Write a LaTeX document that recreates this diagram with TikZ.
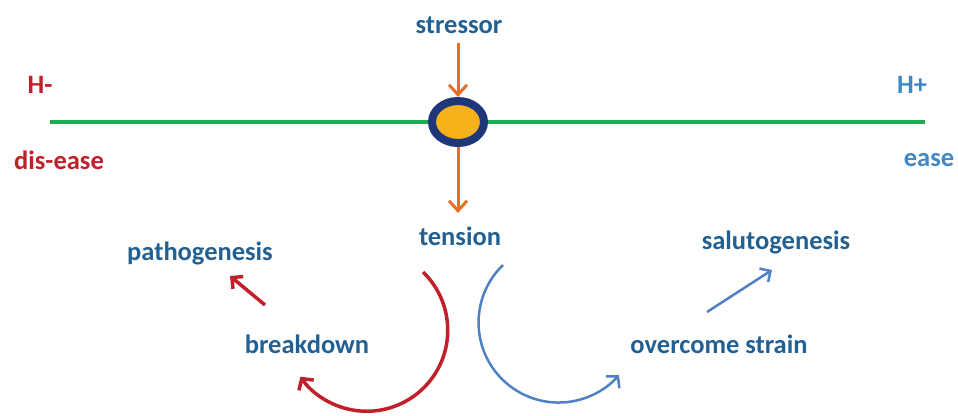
\documentclass[tikz,border=0pt]{standalone}
\usepackage{fontspec}
\setmainfont{Carlito}
\usetikzlibrary{arrows.meta,shapes.geometric}
\definecolor{txtblue}{RGB}{34,96,146}
\definecolor{hred}{RGB}{192,32,42}
\definecolor{hblue}{RGB}{62,136,200}
\definecolor{lgreen}{RGB}{34,170,80}
\definecolor{orng}{RGB}{232,110,40}
\definecolor{navy}{RGB}{30,55,120}
\definecolor{dotfill}{RGB}{246,178,24}
\definecolor{arcblue}{RGB}{80,128,196}
\begin{document}
\begin{tikzpicture}[x=1pt,y=-1pt,
  lbl/.style={font=\fontsize{26.5}{28}\selectfont\bfseries, text=txtblue, inner sep=0pt},
  redlbl/.style={lbl, text=hred},
  bluelbl/.style={lbl, text=hblue},
  oarrow/.style={draw=orng, line width=3pt, -{Straight Barb[length=10pt,width=18pt,line width=3pt]}},
  rarrow/.style={draw=hred, line width=3.5pt, -{Straight Barb[length=8pt,width=16pt,line width=3.5pt]}},
  barrow/.style={draw=arcblue, line width=2.5pt, -{Straight Barb[length=8pt,width=16pt,line width=2.5pt]}}]
\useasboundingbox (0,0) rectangle (958,415);
\node[lbl] (stressor) at (459,25) {stressor};
\node[lbl] (tension) at (460,236) {tension};
\node[redlbl] (hminus) at (40,85) {H-};
\node[redlbl] (disease) at (59,160) {dis-ease};
\node[bluelbl] (hplus) at (912,85) {H+};
\node[bluelbl] (ease) at (929,160) {ease};
\node[lbl] (patho) at (200,253) {pathogenesis};
\node[lbl] (breakdown) at (307,344) {breakdown};
\node[lbl] (saluto) at (776,242) {salutogenesis};
\node[lbl] (overcome) at (719,344) {overcome strain};
\coordinate (lineL) at (50,122);
\coordinate (lineR) at (925,122);
\draw[lgreen, line width=3.5pt] (lineL) -- (lineR);
\node[ellipse, draw=navy, line width=8pt, fill=dotfill, minimum width=52pt, minimum height=42pt, inner sep=0pt] (dot) at (458,122) {};
\coordinate (sA) at (458,43);
\coordinate (tA) at (458,213);
\draw[oarrow] (sA) -- (dot.north);
\draw[oarrow] (dot.south) -- (tA);
\coordinate (pA) at (265,305);
\coordinate (pB) at (230,276);
\draw[rarrow] (pA) -- (pB);
\coordinate (sB1) at (707,312);
\coordinate (sB2) at (772,270);
\draw[barrow] (sB1) -- (sB2);
\coordinate (redStart) at (423,272);
\coordinate (blueStart) at (503,265);
\draw[hred, line width=3.5pt, -{Straight Barb[length=8pt,width=18pt,line width=3.5pt]}] (redStart) arc[start angle=-46, end angle=145, radius=81];
\draw[arcblue, line width=2.5pt, -{Straight Barb[length=8pt,width=18pt,line width=2.5pt]}] (blueStart) arc[start angle=226, end angle=41, radius=80];
\end{tikzpicture}
\end{document}
